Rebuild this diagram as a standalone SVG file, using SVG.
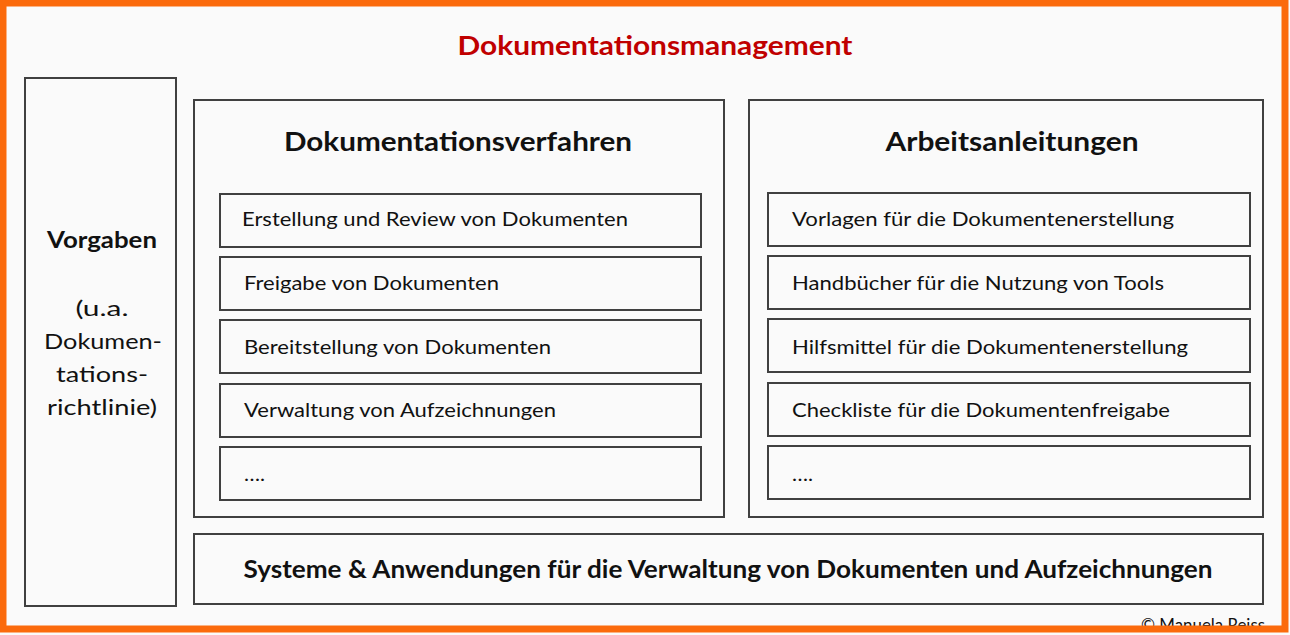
<svg xmlns="http://www.w3.org/2000/svg" width="1290" height="635" viewBox="0 0 1290 635">
<style>
.box{fill:#fafafa;stroke:#404040;stroke-width:2}
.t{font-family:Lato,"Open Sans","Liberation Sans",sans-serif;fill:#111}
.item{font-size:20px}
.h{font-size:26px;font-weight:bold}
.c{text-anchor:middle}
</style>
<rect x="0" y="0" width="1290" height="635" fill="#fafafa"/>
<text class="t c" x="655" y="55" font-size="26" font-weight="bold" fill="#c00000" style="fill:#c00000" textLength="395" lengthAdjust="spacingAndGlyphs">Dokumentationsmanagement</text>
<g id="vorgaben">
<rect class="box" x="25" y="78" width="151" height="528"/>
<text class="t c" x="102" y="248" font-size="22" font-weight="bold" textLength="110" lengthAdjust="spacingAndGlyphs">Vorgaben</text>
<text class="t c" x="102" y="316" font-size="22" textLength="53" lengthAdjust="spacingAndGlyphs">(u.a.</text>
<text class="t c" x="103" y="349" font-size="22" textLength="118" lengthAdjust="spacingAndGlyphs">Dokumen-</text>
<text class="t c" x="102" y="382" font-size="22" textLength="92" lengthAdjust="spacingAndGlyphs">tations-</text>
<text class="t c" x="102" y="415" font-size="22" textLength="110" lengthAdjust="spacingAndGlyphs">richtlinie)</text>
</g>
<g id="verfahren">
<rect class="box" x="194" y="100" width="530" height="417"/>
<text class="t h c" x="458" y="151" textLength="348" lengthAdjust="spacingAndGlyphs">Dokumentationsverfahren</text>
<g id="v1"><rect class="box" x="220" y="194" width="481" height="53"/><text class="t item" x="242" y="226" textLength="386" lengthAdjust="spacingAndGlyphs">Erstellung und Review von Dokumenten</text></g>
<g id="v2"><rect class="box" x="220" y="257" width="481" height="53"/><text class="t item" x="244" y="290" textLength="255" lengthAdjust="spacingAndGlyphs">Freigabe von Dokumenten</text></g>
<g id="v3"><rect class="box" x="220" y="320" width="481" height="53"/><text class="t item" x="244" y="354" textLength="307" lengthAdjust="spacingAndGlyphs">Bereitstellung von Dokumenten</text></g>
<g id="v4"><rect class="box" x="220" y="384" width="481" height="53"/><text class="t item" x="244" y="417" textLength="312" lengthAdjust="spacingAndGlyphs">Verwaltung von Aufzeichnungen</text></g>
<g id="v5"><rect class="box" x="220" y="447" width="481" height="53"/><text class="t item" x="244" y="481" textLength="21" lengthAdjust="spacingAndGlyphs">….</text></g>
</g>
<g id="arbeitsanleitungen">
<rect class="box" x="749" y="100" width="514" height="417"/>
<text class="t h c" x="1012" y="151" textLength="253" lengthAdjust="spacingAndGlyphs">Arbeitsanleitungen</text>
<g id="a1"><rect class="box" x="768" y="193" width="482" height="53"/><text class="t item" x="792" y="226" textLength="382" lengthAdjust="spacingAndGlyphs">Vorlagen für die Dokumentenerstellung</text></g>
<g id="a2"><rect class="box" x="768" y="256" width="482" height="53"/><text class="t item" x="792" y="290" textLength="372" lengthAdjust="spacingAndGlyphs">Handbücher für die Nutzung von Tools</text></g>
<g id="a3"><rect class="box" x="768" y="319" width="482" height="53"/><text class="t item" x="792" y="354" textLength="396" lengthAdjust="spacingAndGlyphs">Hilfsmittel für die Dokumentenerstellung</text></g>
<g id="a4"><rect class="box" x="768" y="383" width="482" height="53"/><text class="t item" x="792" y="417" textLength="378" lengthAdjust="spacingAndGlyphs">Checkliste für die Dokumentenfreigabe</text></g>
<g id="a5"><rect class="box" x="768" y="446" width="482" height="53"/><text class="t item" x="792" y="481" textLength="21" lengthAdjust="spacingAndGlyphs">….</text></g>
</g>
<g id="systeme">
<rect class="box" x="194" y="534" width="1069" height="70"/>
<text class="t c" x="728" y="578" font-size="24" font-weight="bold" textLength="969" lengthAdjust="spacingAndGlyphs">Systeme &amp; Anwendungen für die Verwaltung von Dokumenten und Aufzeichnungen</text>
</g>
<g id="connectors"></g>
<text class="t" x="1141" y="631" font-size="17" textLength="124" lengthAdjust="spacingAndGlyphs">© Manuela Reiss</text>
<rect x="3" y="3" width="1282" height="626" fill="none" stroke="#fb6a0c" stroke-width="7"/>
</svg>
